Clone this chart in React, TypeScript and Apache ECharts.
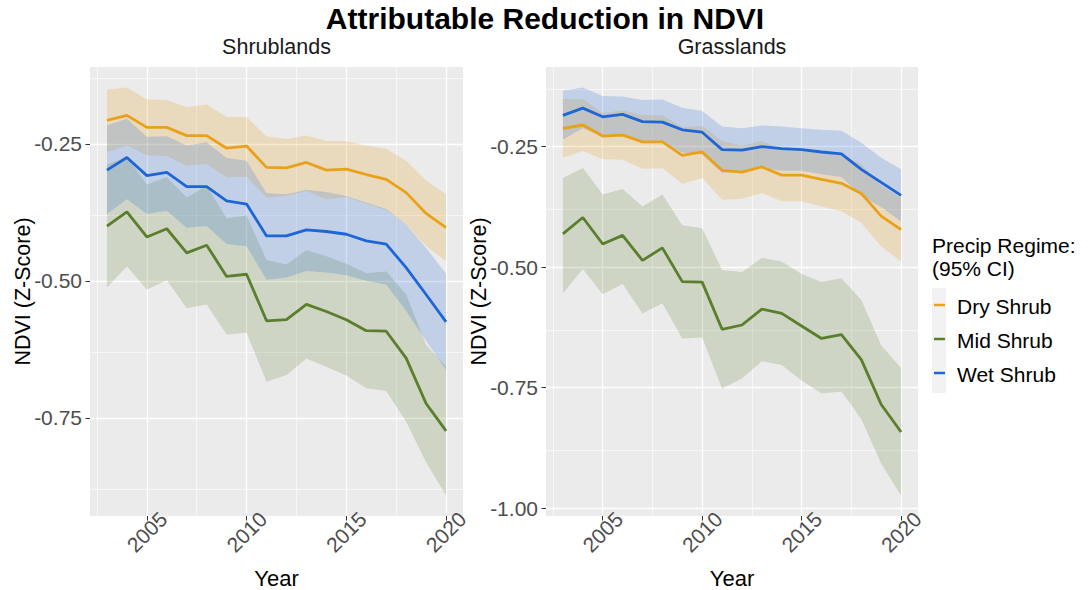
import React, { useEffect, useRef } from "react";
import * as echarts from "echarts";

const years = [2003, 2004, 2005, 2006, 2007, 2008, 2009, 2010, 2011, 2012, 2013, 2014, 2015, 2016, 2017, 2018, 2019, 2020];

// Shrublands
const shrubDryMean = [-0.207, -0.198, -0.22, -0.22, -0.235, -0.235, -0.258, -0.254, -0.293, -0.294, -0.284, -0.298, -0.296, -0.306, -0.315, -0.339, -0.377, -0.403];
const shrubDryUpper = [-0.151, -0.147, -0.169, -0.17, -0.183, -0.178, -0.201, -0.201, -0.236, -0.241, -0.235, -0.245, -0.245, -0.253, -0.259, -0.281, -0.317, -0.342];
const shrubDryLower = [-0.265, -0.253, -0.271, -0.272, -0.29, -0.287, -0.311, -0.31, -0.348, -0.345, -0.336, -0.351, -0.347, -0.359, -0.371, -0.397, -0.437, -0.464];
const shrubMidMean = [-0.4, -0.374, -0.42, -0.405, -0.449, -0.435, -0.492, -0.488, -0.573, -0.571, -0.543, -0.556, -0.571, -0.591, -0.592, -0.641, -0.724, -0.774];
const shrubMidUpper = [-0.288, -0.274, -0.324, -0.311, -0.348, -0.327, -0.386, -0.381, -0.462, -0.47, -0.444, -0.455, -0.469, -0.486, -0.483, -0.525, -0.617, -0.656];
const shrubMidLower = [-0.512, -0.474, -0.516, -0.499, -0.55, -0.543, -0.598, -0.595, -0.684, -0.672, -0.642, -0.657, -0.673, -0.696, -0.701, -0.757, -0.831, -0.892];
const shrubWetMean = [-0.298, -0.275, -0.308, -0.302, -0.328, -0.328, -0.354, -0.36, -0.418, -0.418, -0.407, -0.41, -0.415, -0.427, -0.433, -0.476, -0.525, -0.575];
const shrubWetUpper = [-0.216, -0.204, -0.237, -0.236, -0.253, -0.247, -0.276, -0.281, -0.34, -0.342, -0.334, -0.338, -0.345, -0.357, -0.369, -0.397, -0.44, -0.487];
const shrubWetLower = [-0.378, -0.351, -0.378, -0.372, -0.403, -0.4, -0.433, -0.437, -0.498, -0.494, -0.482, -0.485, -0.49, -0.5, -0.507, -0.555, -0.61, -0.663];

// Grasslands
const grassDryMean = [-0.212, -0.205, -0.228, -0.226, -0.24, -0.24, -0.268, -0.261, -0.299, -0.303, -0.292, -0.309, -0.309, -0.318, -0.326, -0.347, -0.394, -0.422];
const grassDryUpper = [-0.151, -0.151, -0.18, -0.175, -0.184, -0.185, -0.209, -0.207, -0.238, -0.248, -0.238, -0.255, -0.254, -0.262, -0.268, -0.286, -0.331, -0.356];
const grassDryLower = [-0.273, -0.259, -0.276, -0.277, -0.296, -0.295, -0.327, -0.315, -0.36, -0.358, -0.346, -0.363, -0.364, -0.374, -0.384, -0.408, -0.457, -0.488];
const grassMidMean = [-0.431, -0.397, -0.452, -0.434, -0.486, -0.46, -0.53, -0.531, -0.629, -0.62, -0.587, -0.596, -0.622, -0.648, -0.64, -0.692, -0.785, -0.842];
const grassMidUpper = [-0.315, -0.294, -0.349, -0.338, -0.374, -0.349, -0.413, -0.419, -0.506, -0.51, -0.481, -0.488, -0.514, -0.531, -0.523, -0.568, -0.662, -0.71];
const grassMidLower = [-0.554, -0.504, -0.556, -0.535, -0.596, -0.575, -0.648, -0.646, -0.752, -0.731, -0.695, -0.703, -0.735, -0.762, -0.758, -0.815, -0.908, -0.974];
const grassWetMean = [-0.185, -0.17, -0.188, -0.183, -0.198, -0.199, -0.215, -0.22, -0.256, -0.257, -0.25, -0.254, -0.256, -0.261, -0.265, -0.297, -0.324, -0.351];
const grassWetUpper = [-0.134, -0.127, -0.145, -0.146, -0.153, -0.152, -0.169, -0.176, -0.208, -0.212, -0.206, -0.208, -0.212, -0.215, -0.217, -0.242, -0.273, -0.297];
const grassWetLower = [-0.235, -0.212, -0.229, -0.227, -0.242, -0.241, -0.262, -0.266, -0.304, -0.302, -0.294, -0.3, -0.3, -0.307, -0.313, -0.352, -0.375, -0.405];

const regimes = ["Dry Shrub", "Mid Shrub", "Wet Shrub"];
const panelTitles = ["Shrublands", "Grasslands"];
const xTicks = [2005, 2010, 2015, 2020];
const xMinor = [2002.5, 2007.5, 2012.5, 2017.5];
const yTicksLeft = [-0.25, -0.5, -0.75];
const yTicksRight = [-0.25, -0.5, -0.75, -1.0];
const yMinor = [-0.125, -0.375, -0.625, -0.875];

const FONT = '"Liberation Sans", Arial, Helvetica, sans-serif';
const LINE_COLORS = ["#E9A11A", "#5A7E2B", "#1E66D6"];
const BAND_COLORS = ["rgba(233,161,26,0.22)", "rgba(90,126,43,0.2)", "rgba(30,102,214,0.2)"];

const panels = [
  {
    groups: [
      [shrubDryMean, shrubDryUpper, shrubDryLower],
      [shrubMidMean, shrubMidUpper, shrubMidLower],
      [shrubWetMean, shrubWetUpper, shrubWetLower],
    ],
    yTicks: yTicksLeft,
  },
  {
    groups: [
      [grassDryMean, grassDryUpper, grassDryLower],
      [grassMidMean, grassMidUpper, grassMidLower],
      [grassWetMean, grassWetUpper, grassWetLower],
    ],
    yTicks: yTicksRight,
  },
];

const gridBoxes = [
  { left: 90, top: 67, width: 373, height: 449 },
  { left: 546, top: 67, width: 372, height: 449 },
];

function expanded(arrs: number[][]): [number, number] {
  const all = arrs.flat();
  const mn = Math.min(...all);
  const mx = Math.max(...all);
  const pad = (mx - mn) * 0.05;
  return [mn - pad, mx + pad];
}

function buildOption() {
  const xSpan = years[years.length - 1] - years[0];
  const xMin = years[0] - xSpan * 0.05;
  const xMax = years[years.length - 1] + xSpan * 0.05;

  const grids: any[] = [];
  const xAxes: any[] = [];
  const yAxes: any[] = [];
  const series: any[] = [];

  panels.forEach((p, pi) => {
    const box = gridBoxes[pi];
    grids.push({ ...box, show: true, backgroundColor: "#EBEBEB", borderWidth: 0, containLabel: false });
    xAxes.push({
      type: "value",
      gridIndex: pi,
      min: xMin,
      max: xMax,
      splitLine: { show: false },
      axisLine: { show: false },
      axisTick: { show: true, customValues: xTicks, length: 4.5, lineStyle: { color: "#333333", width: 1 } },
      axisLabel: {
        customValues: xTicks,
        rotate: 45,
        align: "center",
        verticalAlign: "middle",
        margin: 16,
        fontSize: 21,
        color: "#4D4D4D",
        fontFamily: FONT,
        formatter: (v: number) => String(Math.round(v)),
      },
    });
    const [yMin, yMax] = expanded(p.groups.flatMap((g) => [g[1], g[2]]));
    yAxes.push({
      type: "value",
      gridIndex: pi,
      min: yMin,
      max: yMax,
      splitLine: { show: false },
      axisLine: { show: false },
      axisTick: { show: true, customValues: p.yTicks, length: 4.5, lineStyle: { color: "#333333", width: 1 } },
      axisLabel: {
        customValues: p.yTicks,
        margin: 8,
        fontSize: 21,
        color: "#4D4D4D",
        fontFamily: FONT,
        formatter: (v: number) => v.toFixed(2),
      },
    });

    // grid lines via markLine on an invisible helper series
    const major = { color: "#FFFFFF", width: 1.3, type: "solid" };
    const minor = { color: "#FFFFFF", width: 0.6, type: "solid" };
    series.push({
      type: "line",
      xAxisIndex: pi,
      yAxisIndex: pi,
      silent: true,
      showSymbol: false,
      z: 1,
      lineStyle: { opacity: 0 },
      data: years.map((y, i) => [y, p.groups[0][0][i]]),
      markLine: {
        silent: true,
        z: 1,
        symbol: ["none", "none"],
        label: { show: false },
        animation: false,
        data: [
          ...xMinor.map((v) => ({ xAxis: v, lineStyle: minor })),
          ...yMinor.map((v) => ({ yAxis: v, lineStyle: minor })),
          ...xTicks.map((v) => ({ xAxis: v, lineStyle: major })),
          ...p.yTicks.map((v) => ({ yAxis: v, lineStyle: major })),
        ],
      },
    });

    p.groups.forEach((g, gi) => {
      const [mean, upper, lower] = g;
      series.push({
        type: "custom",
        xAxisIndex: pi,
        yAxisIndex: pi,
        silent: true,
        z: 2,
        data: [[years[0], mean[0]]],
        encode: { x: 0, y: 1 },
        renderItem: (_params: any, api: any) => {
          const pts: number[][] = [];
          for (let i = 0; i < years.length; i++) pts.push(api.coord([years[i], upper[i]]));
          for (let i = years.length - 1; i >= 0; i--) pts.push(api.coord([years[i], lower[i]]));
          return { type: "polygon", shape: { points: pts }, style: { fill: BAND_COLORS[gi], stroke: "none" } };
        },
      });
      series.push({
        type: "line",
        name: regimes[gi],
        xAxisIndex: pi,
        yAxisIndex: pi,
        z: 2,
        silent: true,
        showSymbol: false,
        lineStyle: { color: LINE_COLORS[gi], width: 2.8 },
        itemStyle: { color: LINE_COLORS[gi] },
        data: years.map((y, i) => [y, mean[i]]),
      });
    });
  });

  const legendYs = [305, 339, 373];
  const graphic: any[] = [
    {
      type: "text",
      x: 545,
      y: 18,
      style: { text: "Attributable Reduction in NDVI", font: `bold 30px ${FONT}`, fill: "#000", align: "center", verticalAlign: "middle" },
    },
    ...panelTitles.map((t, i) => ({
      type: "text",
      x: gridBoxes[i].left + gridBoxes[i].width / 2,
      y: 47,
      style: { text: t, font: `21.5px ${FONT}`, fill: "#1A1A1A", align: "center", verticalAlign: "middle" },
    })),
    ...gridBoxes.map((b) => ({
      type: "text",
      x: b.left + b.width / 2,
      y: 578,
      style: { text: "Year", font: `22px ${FONT}`, fill: "#000", align: "center", verticalAlign: "middle" },
    })),
    ...gridBoxes.map((b) => ({
      type: "text",
      x: b.left - 67,
      y: b.top + b.height / 2,
      rotation: Math.PI / 2,
      style: { text: "NDVI (Z-Score)", font: `21.5px ${FONT}`, fill: "#000", align: "center", verticalAlign: "middle" },
    })),
    {
      type: "text",
      x: 932,
      y: 234,
      style: { text: "Precip Regime:\n(95% CI)", font: `21px ${FONT}`, lineHeight: 23, fill: "#000", align: "left", verticalAlign: "top" },
    },
    { type: "rect", shape: { x: 932, y: 288, width: 14, height: 105 }, style: { fill: "#F2F2F2" } },
    ...regimes.flatMap((r, i) => [
      {
        type: "line",
        shape: { x1: 934, y1: legendYs[i], x2: 945, y2: legendYs[i] },
        style: { stroke: LINE_COLORS[i], lineWidth: 2.5 },
      },
      {
        type: "text",
        x: 957,
        y: legendYs[i] + 1,
        style: { text: r, font: `21px ${FONT}`, fill: "#000", align: "left", verticalAlign: "middle" },
      },
    ]),
  ];

  return {
    animation: false,
    backgroundColor: "#FFFFFF",
    grid: grids,
    xAxis: xAxes,
    yAxis: yAxes,
    series,
    graphic,
  };
}

export default function App() {
  const ref = useRef<HTMLDivElement>(null);
  useEffect(() => {
    if (!ref.current) return;
    const chart = echarts.init(ref.current, undefined, { renderer: "svg" });
    chart.setOption(buildOption() as any);
    return () => chart.dispose();
  }, []);
  return (
    <div
      ref={ref}
      style={{ position: "fixed", left: 0, top: 0, width: 1091, height: 590, background: "#fff" }}
    />
  );
}
